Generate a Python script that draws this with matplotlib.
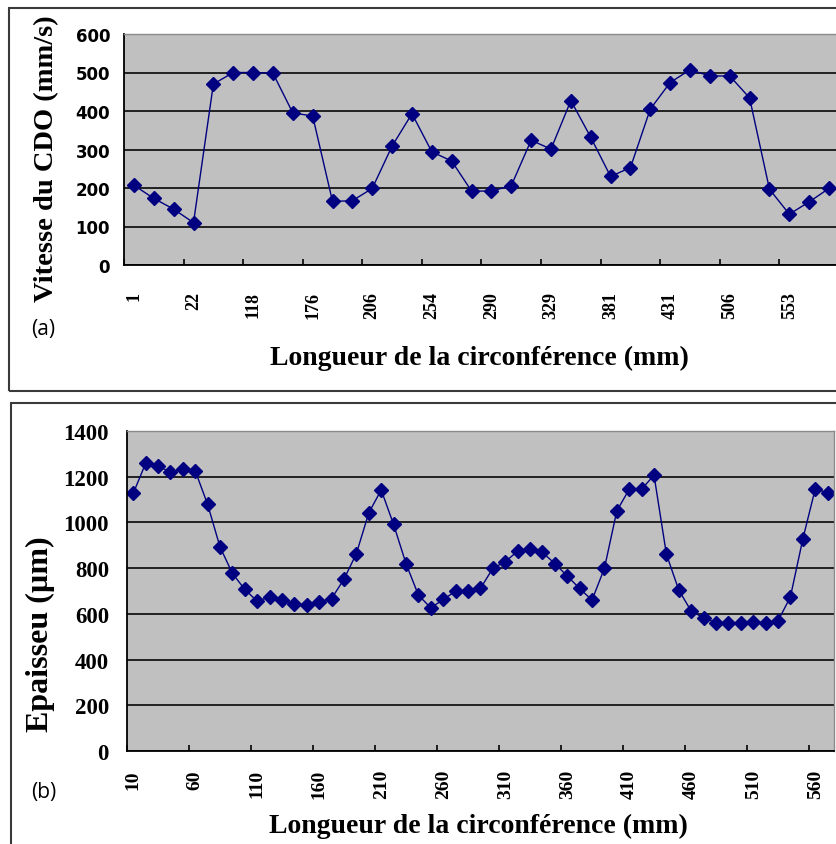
import matplotlib
matplotlib.use("Agg")
import matplotlib.pyplot as plt
from matplotlib.patches import Rectangle
import numpy as np

W, H = 837, 845

# panel (a): speed along the circumference, 36 categories, label every 3rd
vit_labels = ["1", "22", "118", "176", "206", "254", "290", "329", "381", "431", "506", "553"]
vitesse = [207, 173, 145, 110, 470, 500, 500, 498, 395, 387, 165, 167,
           199, 309, 393, 294, 270, 192, 192, 206, 324, 301, 427, 332,
           230, 253, 405, 474, 507, 491, 491, 434, 197, 132, 164, 199]

# panel (b): thickness, positions 10..570 mm
ep_pos = list(range(10, 580, 10))
epaisseur = [1127, 1258, 1248, 1219, 1232, 1226, 1079, 893, 777, 707,
             655, 674, 660, 645, 638, 653, 667, 752, 864, 1042,
             1142, 991, 820, 682, 626, 663, 699, 699, 711, 799,
             828, 874, 882, 869, 820, 766, 711, 660, 799, 1050,
             1145, 1145, 1207, 861, 704, 612, 583, 561, 562, 561,
             565, 561, 569, 674, 927, 1146, 1130]

NAVY = "#000080"
GREY = "#c0c0c0"
SERIF = "Liberation Serif"


def px(x0, y0, x1, y1):
    # pixel box (top-left origin) -> figure fraction rect
    return [x0 / W, 1 - y1 / H, (x1 - x0) / W, (y1 - y0) / H]


def style_axes(ax, ymax, ystep):
    ax.set_facecolor(GREY)
    ax.set_ylim(0, ymax)
    ax.set_yticks(np.arange(0, ymax + 1, ystep))
    ax.yaxis.grid(True, color="#151515", lw=1.3)
    ax.set_axisbelow(True)
    for s in ("top", "right"):
        ax.spines[s].set_color("#8a8a8a")
        ax.spines[s].set_linewidth(1.0)
    for s in ("left", "bottom"):
        ax.spines[s].set_color("black")
        ax.spines[s].set_linewidth(1.3)
    ax.tick_params(axis="y", length=0)
    ax.tick_params(axis="x", which="major", direction="in", length=4,
                   width=1.2, labelbottom=False)
    ax.tick_params(axis="x", which="minor", length=0)


fig = plt.figure(figsize=(W / 100, H / 100), dpi=100)

# outer frames
for (x0, y0, x1, y1) in [(9, 9, 900, 392), (11, 404, 900, 900)]:
    r = px(x0, y0, x1, y1)
    fig.patches.append(Rectangle((r[0], r[1]), r[2], r[3], transform=fig.transFigure,
                                 fill=False, ec="#3a3a3a", lw=1.5))

# ---- (a)
n_a = len(vitesse)
ax1 = fig.add_axes(px(124, 35, 124 + 19.86 * n_a, 266))
ax1.plot(range(n_a), vitesse, color=NAVY, lw=1, marker="D", ms=7.5)
ax1.set_xlim(-0.5, n_a - 0.5)
style_axes(ax1, 600, 100)
ax1.set_xticks(np.arange(-0.5, n_a, 3))
ax1.set_xticks(np.arange(0, n_a, 3), minor=True)
ax1.set_xticklabels(vit_labels, minor=True, rotation=90, fontsize=13,
                    family=SERIF, weight="bold")
ax1.tick_params(axis="x", which="minor", pad=19)
for t in ax1.get_yticklabels():
    t.set_fontsize(12)
    t.set_fontweight("bold")
ax1.tick_params(axis="y", pad=10)

fig.text(47 / W, 1 - 159 / H, "Vitesse du CDO (mm/s)", rotation=90, ha="center",
         va="center", family=SERIF, weight="bold", fontsize=20.5)
fig.text(479 / W, 1 - 358 / H, "Longueur de la circonférence (mm)", ha="center",
         va="center", family=SERIF, weight="bold", fontsize=20)
fig.text(43 / W, 1 - 330 / H, "(a)", ha="center", va="center", fontsize=15,
         family="Open Sans")

# ---- (b)
n_b = len(epaisseur)
ax2 = fig.add_axes(px(127, 432, 127 + 12.40 * n_b, 752))
ax2.plot(range(n_b), epaisseur, color=NAVY, lw=1, marker="D", ms=7.5)
ax2.set_xlim(-0.5, n_b - 0.5)
style_axes(ax2, 1400, 200)
ax2.set_xticks(np.arange(-0.5, n_b, 5))
ax2.set_xticks(np.arange(0, n_b, 5), minor=True)
ax2.set_xticklabels([str(p) for p in ep_pos[::5]], minor=True, rotation=90,
                    fontsize=14, family=SERIF, weight="bold")
ax2.tick_params(axis="x", which="minor", pad=13)
for t in ax2.get_yticklabels():
    t.set_fontsize(16.5)
    t.set_family(SERIF)
    t.set_fontweight("bold")
ax2.tick_params(axis="y", pad=13)

fig.text(40 / W, 1 - 634 / H, "Epaisseu (µm)", rotation=90, ha="center",
         va="center", family=SERIF, weight="bold", fontsize=23)
fig.text(478 / W, 1 - 826 / H, "Longueur de la circonférence (mm)", ha="center",
         va="center", family=SERIF, weight="bold", fontsize=20)
fig.text(44 / W, 1 - 793 / H, "(b)", ha="center", va="center", fontsize=15,
         family="Open Sans")

fig.savefig("out.png", dpi=100)
